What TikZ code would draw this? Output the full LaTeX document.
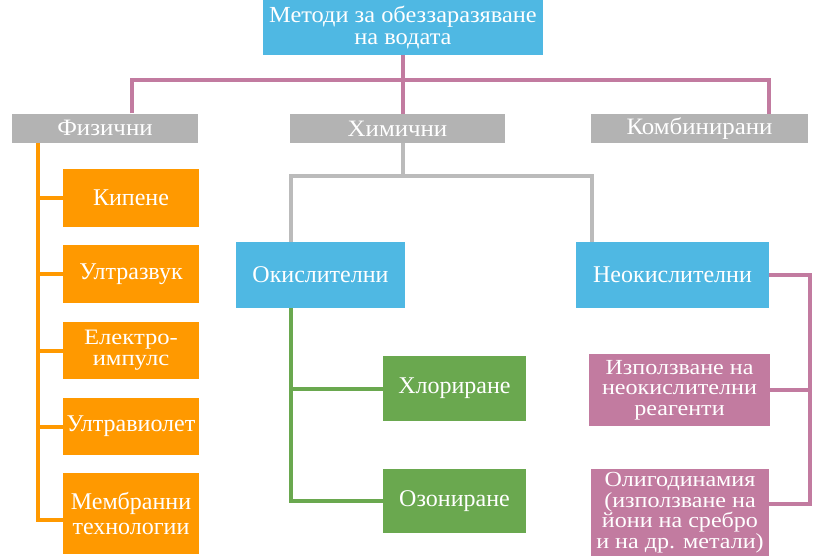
\documentclass[tikz,border=0pt]{standalone}
\usepackage{fontspec}
\setmainfont{Liberation Serif}
\newfontfamily\widefont[FakeStretch=1.06]{Liberation Serif}
\newfontfamily\tallfont[FakeStretch=1.12]{Liberation Serif}
\definecolor{cblue}{HTML}{4FB8E3}
\definecolor{corange}{HTML}{FF9900}
\definecolor{cgray}{HTML}{B3B3B3}
\definecolor{cgreen}{HTML}{6AA84F}
\definecolor{cpink}{HTML}{C27BA0}
\definecolor{cgline}{HTML}{BBBBBB}
\tikzset{
  box/.style={inner sep=0pt, text=white, align=center, font=\fontsize{24}{25}\selectfont},
  bluebox/.style={box, fill=cblue},
  graybox/.style={box, fill=cgray, font=\widefont\fontsize{23.5}{23}\selectfont},
  orangebox/.style={box, fill=corange},
  greenbox/.style={box, fill=cgreen},
  pinkbox/.style={box, fill=cpink, font=\tallfont\fontsize{21.5}{20.5}\selectfont},
  conn/.style={line width=4pt},
  pinkline/.style={conn, draw=cpink},
  orangeline/.style={conn, draw=corange},
  grayline/.style={conn, draw=cgline},
  greenline/.style={conn, draw=cgreen},
}
\begin{document}
\begin{tikzpicture}[x=1pt,y=-1pt]
\useasboundingbox[fill=white] (0,0) rectangle (823,555);
% nodes
\node[bluebox, minimum width=280pt, minimum height=55pt, font=\widefont\fontsize{23}{21.5}\selectfont] (top) at (403,27.5) {Методи за обеззаразяване\\на водата};
\node[graybox, minimum width=186pt, minimum height=29pt] (fiz) at (105,128) {Физични};
\node[graybox, minimum width=215pt, minimum height=29pt] (him) at (397.5,128.5) {Химични};
\node[graybox, minimum width=217pt, minimum height=29pt] (komb) at (699.5,128.5) {Комбинирани};
% orange
\node[orangebox, minimum width=136pt, minimum height=58pt] (kip) at (131,198) {Кипене};
\node[orangebox, minimum width=136pt, minimum height=58pt] (ult) at (131,274) {Ултразвук};
\node[orangebox, minimum width=136pt, minimum height=57pt, font=\tallfont\fontsize{22}{21}\selectfont] (ele) at (131,350.5) {Електро-\\импулс};
\node[orangebox, minimum width=136pt, minimum height=57pt] (uvi) at (131,426.5) {Ултравиолет};
\node[orangebox, minimum width=136pt, minimum height=81pt] (mem) at (131,513.5) {Мембранни\\технологии};
% chemical
\node[bluebox, minimum width=169pt, minimum height=66pt] (oki) at (320.5,275) {Окислителни};
\node[bluebox, minimum width=193pt, minimum height=66pt] (neo) at (672.5,275) {Неокислителни};
\node[greenbox, minimum width=143pt, minimum height=65pt] (hlo) at (454.5,388.5) {Хлориране};
\node[greenbox, minimum width=143pt, minimum height=64pt] (ozo) at (454.5,501) {Озониране};
\node[pinkbox, minimum width=181pt, minimum height=72pt] (izp) at (679.5,390) {Използване на\\неокислителни\\реагенти};
\node[pinkbox, minimum width=178pt, minimum height=87pt] (oli) at (680,512.5) {Олигодинамия\\(използване на\\йони на сребро\\и на др. метали)};
% coordinates
\coordinate (fa) at (132,80);
\coordinate (ka) at (769,80);
\coordinate (ox) at (38,0);
\coordinate (gy) at (0,176);
\coordinate (gl) at (291,0);
\coordinate (gr) at (592,0);
\coordinate (px) at (810,0);
\coordinate (ob) at ([yshift=9pt]oli.east);
\coordinate (mb) at ([yshift=-6.5pt]mem.west);
% connectors
\draw[pinkline] (top.south) -- (top.south |- him.north);
\draw[pinkline] (fiz.north -| fa) -- (fa) -- (ka) -- (komb.north -| ka);
\draw[orangeline] (fiz.south -| ox) |- (mb);
\draw[orangeline] (kip.west) -- (kip.west -| ox);
\draw[orangeline] (ult.west) -- (ult.west -| ox);
\draw[orangeline] (ele.west) -- (ele.west -| ox);
\draw[orangeline] (uvi.west) -- (uvi.west -| ox);
\draw[grayline] (top.south |- him.south) -- (top.south |- gy);
\draw[grayline] (oki.north -| gl) -- (gl |- gy) -- (gr |- gy) -- (neo.north -| gr);
\draw[greenline] (oki.south -| gl) |- (ozo.west);
\draw[greenline] (hlo.west) -- (hlo.west -| gl);
\draw[pinkline] (neo.east) -| (px |- ob) -- (ob);
\draw[pinkline] (izp.east) -- (izp.east -| px);
\end{tikzpicture}
\end{document}
